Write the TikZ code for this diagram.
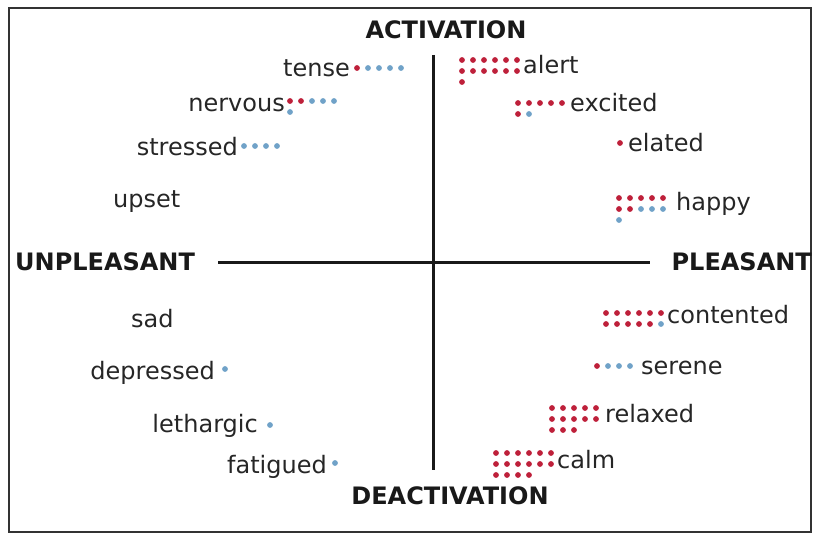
\documentclass[tikz,border=0pt]{standalone}
\usepackage{fontspec}
\setmainfont{DejaVu Sans}
\usetikzlibrary{calc}
\definecolor{dotr}{RGB}{190,32,58}
\definecolor{dotb}{RGB}{112,162,200}
\tikzset{
  word/.style={font=\fontsize{24}{28}\selectfont, inner sep=0pt, text=black!85},
  pole/.style={font=\fontsize{24}{28}\selectfont\bfseries, inner sep=0pt, text=black!90},
  axis/.style={line width=3pt, black!90}}
% one row of answers per group, r = red, b = blue
\newcommand{\dotrows}[2]{%
  \foreach \row [count=\j from 0] in {#2}{%
    \foreach \c [count=\i from 0] in \row {\fill[dot\c] ($(#1)+(\i*11,\j*11)$) circle[radius=2.9pt];}}}
\begin{document}
\begin{tikzpicture}[x=1pt,y=-1pt]
  \useasboundingbox (0,0) rectangle (814,534);
  \draw[line width=2pt, black!80] (9,8) rectangle (811,532);
  \coordinate (vtop) at (433,55); \coordinate (vbot) at (433,470);
  \coordinate (hleft) at (218,263); \coordinate (hright) at (650,263);
  \draw[axis] (vtop) -- (vbot);
  \draw[axis] (hleft) -- (hright);
  \node[pole, anchor=base] (act) at (446,39) {ACTIVATION};
  \node[pole, anchor=base] (deact) at (450,504) {DEACTIVATION};
  \node[pole, anchor=base west] (unpl) at (15,271) {UNPLEASANT};
  \node[pole, anchor=base east] (pl) at (812,271) {PLEASANT};
  % left half
  \foreach \w/\x/\y in {tense/350/77,nervous/285/112,stressed/238/156,depressed/215/380,lethargic/258/432,fatigued/327/473}
    \node[word, anchor=base east] (\w) at (\x,\y) {\w};
  \foreach \w/\x/\y in {upset/113/208,sad/131/328}
    \node[word, anchor=base west] (\w) at (\x,\y) {\w};
  % right half
  \foreach \w/\x/\y in {alert/523/74,excited/570/112,elated/628/152,happy/676/211,contented/667/324,serene/641/375,relaxed/605/422,calm/557/468}
    \node[word, anchor=base west] (\w) at (\x,\y) {\w};
  % answers
  \dotrows{357,68}{{r,b,b,b,b}}
  \dotrows{290,101}{{r,r,b,b,b},{b}}
  \dotrows{244,146}{{b,b,b,b}}
  \dotrows{225,369}{{b}}
  \dotrows{270,425}{{b}}
  \dotrows{335,463}{{b}}
  \dotrows{462,60}{{r,r,r,r,r,r},{r,r,r,r,r,r},{r}}
  \dotrows{518,103}{{r,r,r,r,r},{r,b}}
  \dotrows{620,143}{{r}}
  \dotrows{619,198}{{r,r,r,r,r},{r,r,b,b,b},{b}}
  \dotrows{606,313}{{r,r,r,r,r,r},{r,r,r,r,r,b}}
  \dotrows{597,366}{{r,b,b,b}}
  \dotrows{552,408}{{r,r,r,r,r},{r,r,r,r,r},{r,r,r}}
  \dotrows{496,453}{{r,r,r,r,r,r},{r,r,r,r,r,r},{r,r,r,r}}
\end{tikzpicture}
\end{document}
